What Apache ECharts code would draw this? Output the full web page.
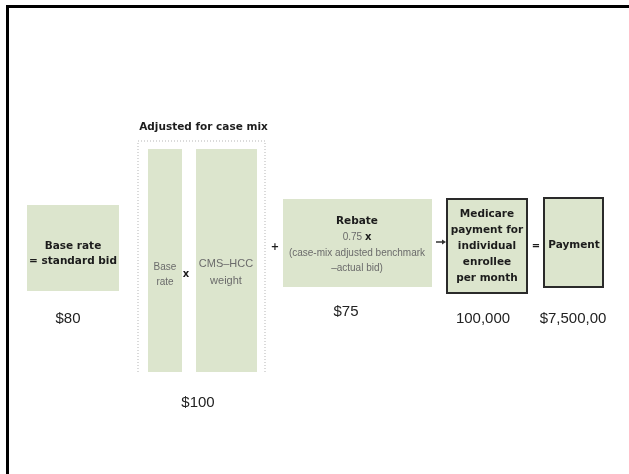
<!DOCTYPE html>
<html><head><meta charset="utf-8">
<script src="https://cdn.jsdelivr.net/npm/echarts@6/dist/echarts.min.js"></script>
<style>html,body{margin:0;padding:0;background:#fff}#c{width:629px;height:474px}</style>
</head><body><div id="c"></div>
<script>
// ---------- data ----------
const groupTitle = 'Adjusted for case mix';
const boxTexts = [
  ['Base rate', '= standard bid'],
  ['Base', 'rate'],
  ['CMS–HCC', 'weight'],
  ['Rebate', '0.75 x', '(case-mix adjusted benchmark', '–actual bid)'],
  ['Medicare', 'payment for', 'individual', 'enrollee', 'per month'],
  ['Payment']
];
const valueLabels = ['$80', '$100', '$75', '100,000', '$7,500,00'];
const operators = ['x', '+', '='];

// ---------- layout (diagram units = pixels of a 629x474 canvas) ----------
const boxLayout = [
  {x0:27, y0:205, x1:119, y1:291, cx:73,  cy:253.5, lh:15,   kind:'bold',   border:false},
  {x0:148,y0:149, x1:182, y1:372, cx:165, cy:274.5, lh:15,   kind:'light',  size:10, border:false},
  {x0:196,y0:149, x1:257, y1:372, cx:226, cy:272.5, lh:16.5, kind:'light',  size:11, border:false},
  {x0:283,y0:199, x1:432, y1:287, cx:357, cy:245,   lh:15.7, kind:'rebate', border:false},
  {x0:447,y0:199, x1:527, y1:293, cx:487, cy:246,   lh:16,   kind:'bold',   border:true},
  {x0:544,y0:198, x1:603, y1:287, cx:574, cy:245,   lh:16,   kind:'bold',   border:true}
];
const valuePos = [[68,319],[198,403],[346,312],[483,319],[573,319]];
const operatorPos = [[186,274],[275,247],[536,246]];
const arrowPos = [[436,242],[446,242]];
const titlePos = [203.5,127];
const groupFrame = [[138,372],[138,141],[265,141],[265,372]];
const outerFrame = [[7.5,480],[7.5,6.5],[640,6.5]];

const FILL = '#dce5cd';
const BOLD = 'bold 10.5px "DejaVu Sans"';
const LIGHT = '"Liberation Sans"';
const GREY = '#6b6b6b';
const INK = '#1c1c1c';

// element list
const elements = [];
elements.push({t:'outer'});
elements.push({t:'group'});
boxLayout.forEach((b,i)=>elements.push({t:'box', i}));
valueLabels.forEach((v,i)=>elements.push({t:'value', i}));
operators.forEach((o,i)=>elements.push({t:'op', i}));
elements.push({t:'arrow'});
elements.push({t:'title'});

function boxRich(i){
  const lines = boxTexts[i];
  const L = boxLayout[i];
  if (L.kind === 'bold') {
    return {text: lines.map(l=>'{b|'+l+'}').join('\n'),
      rich:{b:{font:BOLD, fill:INK, lineHeight:L.lh}}};
  }
  if (L.kind === 'light') {
    return {text: lines.map(l=>'{g|'+l+'}').join('\n'),
      rich:{g:{font:L.size+'px '+LIGHT, fill:GREY, lineHeight:L.lh}}};
  }
  // rebate
  const parts = lines[1].split(' ');
  return {text: '{b|'+lines[0]+'}\n{g|'+parts[0]+' }{bx|'+parts[1]+'}\n{g|'+lines[2]+'}\n{g|'+lines[3]+'}',
    rich:{
      b:{font:BOLD, fill:INK, lineHeight:L.lh},
      g:{font:'10px '+LIGHT, fill:GREY, lineHeight:L.lh},
      bx:{font:'bold 10px "DejaVu Sans"', fill:INK, lineHeight:L.lh}
    }};
}

function renderItem(params, api){
  const e = elements[params.dataIndex];
  const P = p => api.coord(p);
  if (e.t === 'outer') {
    return {type:'polyline', shape:{points: outerFrame.map(P)},
      style:{stroke:'#000', lineWidth:3, fill:null, lineJoin:'miter'}};
  }
  if (e.t === 'group') {
    return {type:'polyline', shape:{points: groupFrame.map(P)},
      style:{stroke:'#b5b5b5', lineWidth:1, fill:null, lineDash:[1,2]}};
  }
  if (e.t === 'box') {
    const L = boxLayout[e.i];
    const a = P([L.x0, L.y0]), b = P([L.x1, L.y1]);
    const c = P([L.cx, L.cy]);
    const r = boxRich(e.i);
    return {type:'group', children:[
      {type:'rect', shape:{x:a[0], y:a[1], width:b[0]-a[0], height:b[1]-a[1]},
        style:{fill:FILL, stroke: L.border ? '#2a2a2a' : null, lineWidth: L.border ? 2 : 0}},
      {type:'text', x:c[0], y:c[1], style:Object.assign({align:'center', verticalAlign:'middle'}, r)}
    ]};
  }
  if (e.t === 'value') {
    const c = P(valuePos[e.i]);
    return {type:'text', x:c[0], y:c[1], style:{text:valueLabels[e.i], font:'15px "Liberation Sans"', fill:'#222', align:'center', verticalAlign:'middle'}};
  }
  if (e.t === 'op') {
    const c = P(operatorPos[e.i]);
    return {type:'text', x:c[0], y:c[1], style:{text:operators[e.i], font:'bold 10px "DejaVu Sans"', fill:INK, align:'center', verticalAlign:'middle'}};
  }
  if (e.t === 'arrow') {
    const a = P(arrowPos[0]), b = P(arrowPos[1]);
    return {type:'group', children:[
      {type:'line', shape:{x1:a[0], y1:a[1], x2:b[0]-3, y2:b[1]}, style:{stroke:'#333', lineWidth:1.5}},
      {type:'polygon', shape:{points:[[b[0],b[1]],[b[0]-4,b[1]-2.5],[b[0]-4,b[1]+2.5]]}, style:{fill:'#333'}}
    ]};
  }
  if (e.t === 'title') {
    const c = P(titlePos);
    return {type:'text', x:c[0], y:c[1], style:{text:groupTitle, font:BOLD, fill:INK, align:'center', verticalAlign:'middle'}};
  }
}

const chart = echarts.init(document.getElementById('c'), null, {renderer:'canvas'});
chart.setOption({
  animation:false,
  backgroundColor:'#fff',
  grid:{left:0, right:0, top:0, bottom:0},
  xAxis:{type:'value', min:0, max:629, show:false},
  yAxis:{type:'value', min:0, max:474, inverse:true, show:false},
  series:[{
    type:'custom',
    clip:false,
    renderItem: renderItem,
    data: elements.map(()=>[0,0])
  }]
});
</script></body></html>
